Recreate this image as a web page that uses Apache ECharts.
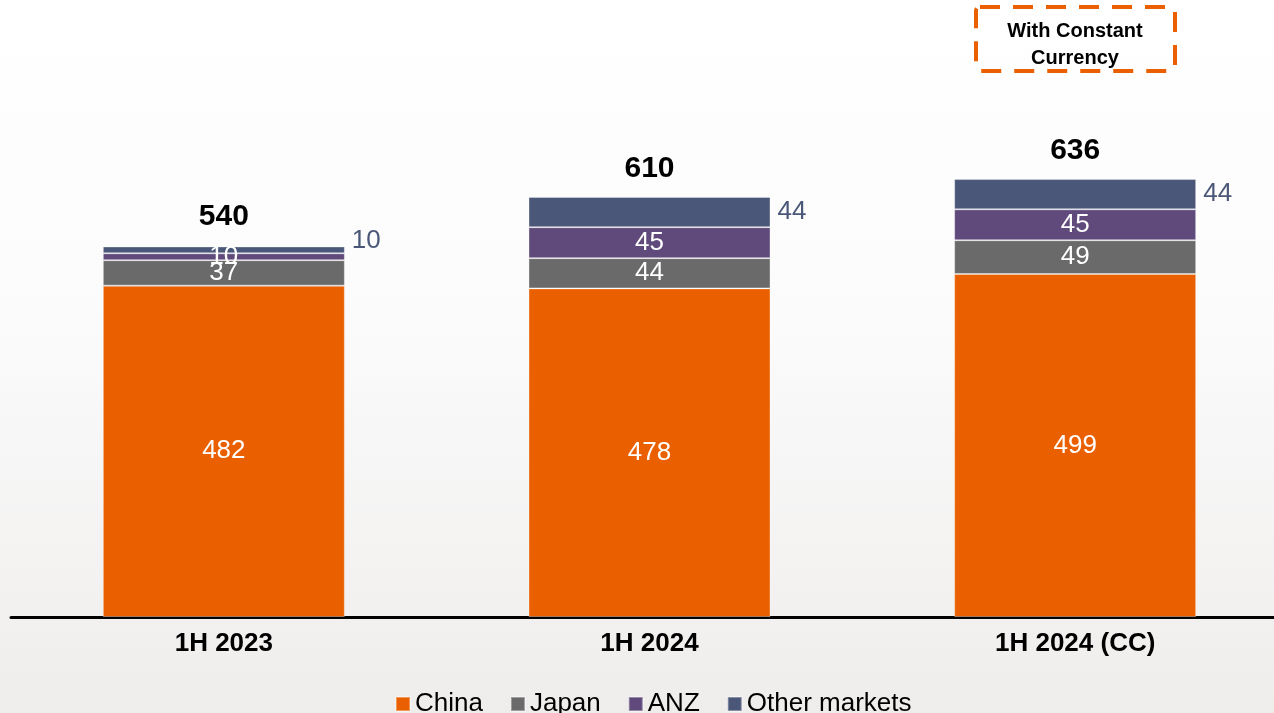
<!DOCTYPE html>
<html>
<head>
<meta charset="utf-8">
<script src="https://cdn.jsdelivr.net/npm/echarts@6/dist/echarts.min.js"></script>
<style>
  html, body { margin: 0; padding: 0; }
  #chart { width: 1274px; height: 713px; }
</style>
</head>
<body>
<div id="chart"></div>
<script>
// Revenue by market, stacked per half-year
const categories = ['1H 2023', '1H 2024', '1H 2024 (CC)'];
const seriesNames = ['China', 'Japan', 'ANZ', 'Other markets'];
const china = [482, 478, 499];
const japan = [37, 44, 49];
const anz = [10, 45, 45];
const otherMarkets = [10, 44, 44];
const totals = [540, 610, 636];

const colors = {
  China: '#EA6000',
  Japan: '#6A6A6A',
  ANZ: '#604A7B',
  'Other markets': '#4A5778'
};

const FONT = '"Liberation Sans", Arial, sans-serif';
const BAR_W = 242;

const insideLabel = {
  show: true,
  position: 'inside',
  color: '#ffffff',
  fontSize: 26,
  fontFamily: FONT
};

function stackSeries(name, values, label) {
  return {
    name: name,
    type: 'bar',
    stack: 'total',
    barWidth: BAR_W,
    data: values,
    itemStyle: {
      color: colors[name],
      borderColor: 'rgba(255,255,255,0.35)',
      borderWidth: 1
    },
    label: label
  };
}

// the thin "Other markets" segment of the first bar gets its side label lifted a little
const otherData = otherMarkets.map((v, i) => (i === 0 ? { value: v, label: { offset: [0, -9] } } : v));

const chart = echarts.init(document.getElementById('chart'), null, { renderer: 'canvas' });

chart.setOption({
  animation: false,
  backgroundColor: {
    type: 'linear', x: 0, y: 0, x2: 0, y2: 1,
    colorStops: [
      { offset: 0, color: '#ffffff' },
      { offset: 0.45, color: '#fbfbfb' },
      { offset: 1, color: '#efedec' }
    ]
  },
  // the plot runs slightly past the right edge of the page
  grid: { left: 11, width: 1277, top: 67, bottom: 96, outerBoundsMode: 'none' },
  legend: {
    data: seriesNames,
    left: 390,
    top: 686,
    icon: 'rect',
    itemWidth: 14,
    itemHeight: 14,
    itemGap: 27,
    textStyle: { fontSize: 26, color: '#000000', fontFamily: FONT }
  },
  xAxis: {
    type: 'category',
    data: categories,
    axisTick: { show: false },
    axisLine: { lineStyle: { color: '#000000', width: 3 } },
    axisLabel: {
      margin: 14,
      fontSize: 26,
      fontWeight: 'bold',
      color: '#000000',
      fontFamily: FONT
    }
  },
  yAxis: {
    type: 'value',
    min: 0,
    max: 800,
    show: false,
    splitLine: { show: false }
  },
  series: [
    stackSeries('China', china, insideLabel),
    stackSeries('Japan', japan, insideLabel),
    stackSeries('ANZ', anz, insideLabel),
    stackSeries('Other markets', otherData, {
      show: true,
      position: 'right',
      distance: 7,
      color: colors['Other markets'],
      fontSize: 26,
      fontFamily: FONT
    }),
    {
      name: 'Total',
      type: 'bar',
      barWidth: BAR_W,
      barGap: '-100%',
      z: 1,
      silent: true,
      data: totals,
      itemStyle: { color: 'rgba(0,0,0,0)' },
      label: {
        show: true,
        position: 'top',
        distance: 14,
        color: '#000000',
        fontSize: 30,
        fontWeight: 'bold',
        fontFamily: FONT
      }
    }
  ],
  graphic: [
    {
      type: 'rect',
      x: 976,
      y: 7,
      shape: { width: 199, height: 64, r: 4 },
      style: {
        fill: 'rgba(255,255,255,0)',
        stroke: '#EA6000',
        lineWidth: 4,
        lineDash: [20, 13]
      }
    },
    {
      type: 'text',
      x: 1075,
      y: 18,
      style: {
        text: 'With Constant\nCurrency',
        align: 'center',
        fill: '#000000',
        fontSize: 20,
        fontWeight: 'bold',
        fontFamily: FONT,
        lineHeight: 27
      }
    }
  ]
});
</script>
</body>
</html>
